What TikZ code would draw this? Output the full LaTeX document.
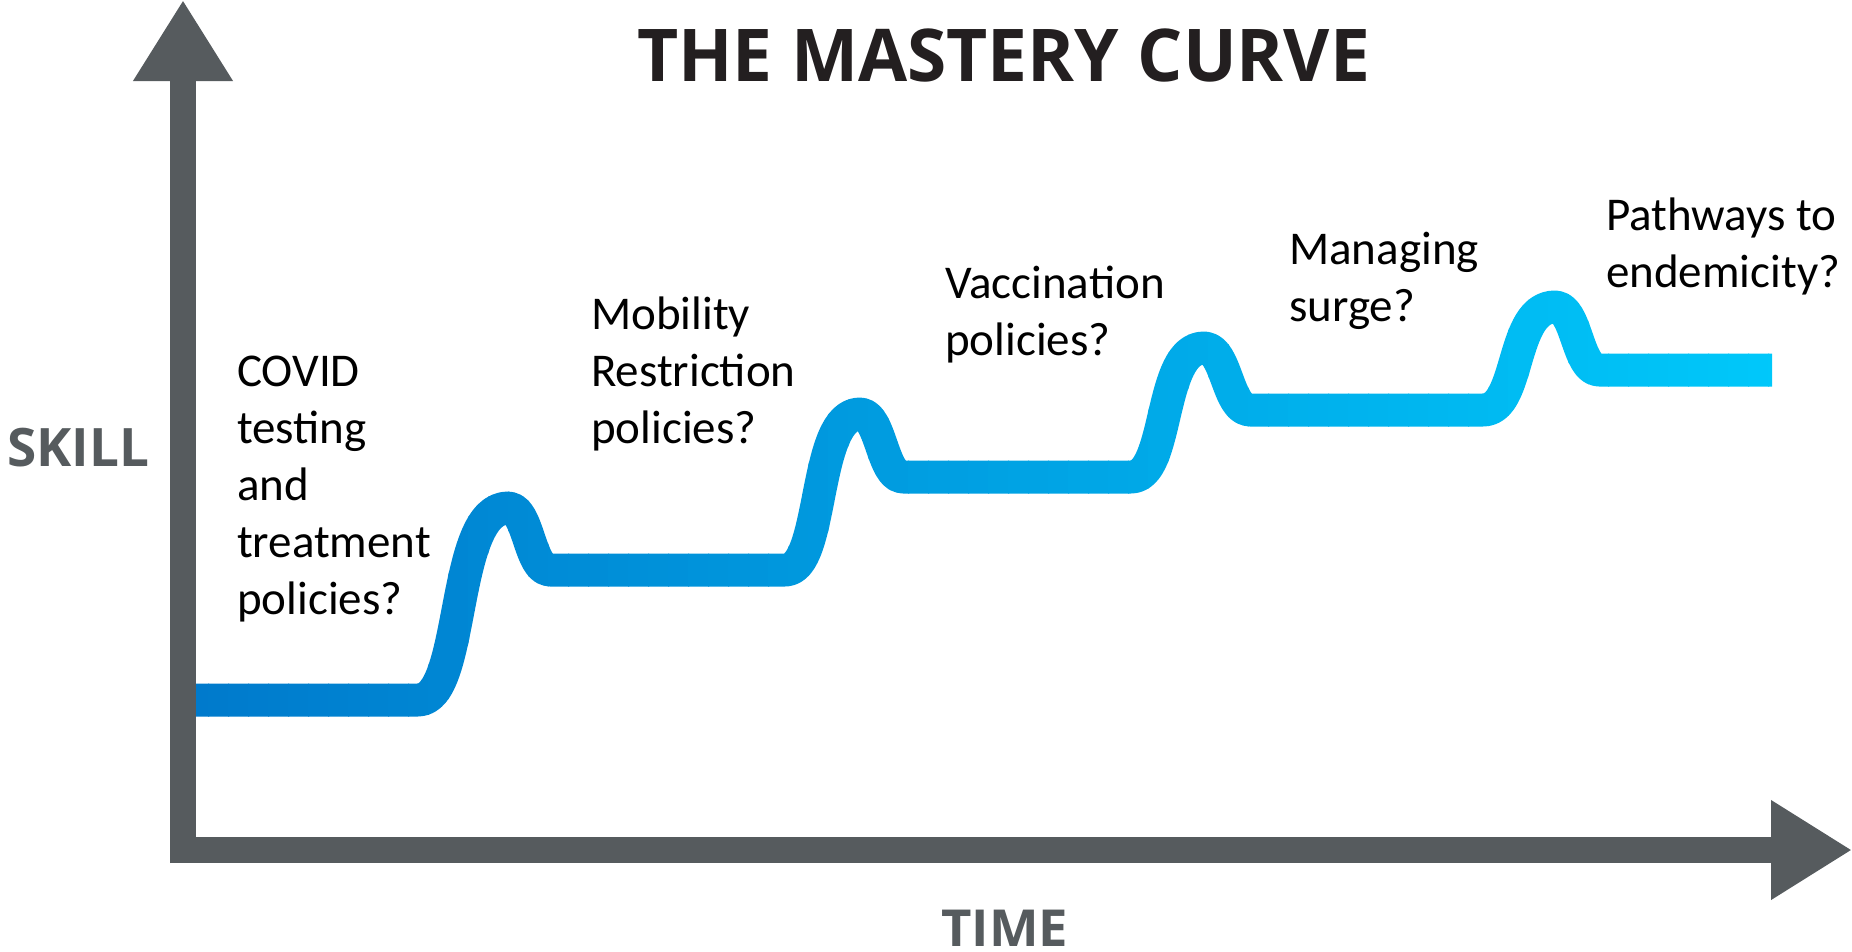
\documentclass[tikz,border=0pt]{standalone}
\usepackage{fontspec}
\usepackage{graphicx}
\usetikzlibrary{arrows.meta}
\newfontfamily\calfont{Carlito}
\newfontfamily\headfont{Open Sans}
\definecolor{axisgray}{HTML}{565B5E}
\definecolor{titleink}{HTML}{231F20}
\definecolor{curveA}{RGB}{0,122,204}
\definecolor{curveB}{RGB}{0,200,250}
\newcommand\masterypath{(170,700) -- (418,700)
  .. controls (466,700) and (450,508) .. (508,508)
  .. controls (529,508) and (529,570) .. (550,570) -- (785,570)
  .. controls (825,570) and (812,414) .. (860,414)
  .. controls (881,414) and (882,477) .. (903,477) -- (1131,477)
  .. controls (1170,477) and (1158,348) .. (1204,348)
  .. controls (1227,348) and (1227,410) .. (1250,410) -- (1483,410)
  .. controls (1521,410) and (1510,307) .. (1555,307)
  .. controls (1577,307) and (1577,370) .. (1599,370) -- (1772,370)}
\tikzset{
  axisline/.style={draw=axisgray, line width=26pt, -{Triangle[length=81pt,width=94pt]}},
  curveline/.style={line width=33pt, line join=round},
  lbl/.style={anchor=base west, inner sep=0pt, text=black, font=\calfont\fontsize{47}{57}\selectfont},
  axlabel/.style={anchor=base west, inner sep=0pt, text=axisgray, font=\headfont\bfseries\fontsize{53}{60}\selectfont},
  titlestyle/.style={anchor=base west, inner sep=0pt, text=titleink, font=\headfont\bfseries\fontsize{72.8}{80}\selectfont},
}
\begin{document}
\begin{tikzpicture}[x=1pt,y=-1pt]
  \useasboundingbox (0,0) rectangle (1852,951);
  % gradient curve
  \foreach \i in {0,...,79}{
    \pgfmathtruncatemacro{\p}{round(\i*100/79)}
    \begin{scope}
      \clip (188+\i*20,0) rectangle (209+\i*20,951);
      \draw[curveline, draw=curveB!\p!curveA] \masterypath;
    \end{scope}
  }
  % axes
  \coordinate (ybot) at (183,863);
  \coordinate (ytop) at (183,0);
  \coordinate (xleft) at (170,850);
  \coordinate (xright) at (1852,850);
  \draw[axisline] (ybot) -- (ytop);
  \draw[axisline] (xleft) -- (xright);
  % texts
  \node[titlestyle] (title) at (637,81) {\resizebox{733pt}{\height}{THE MASTERY CURVE}};
  \node[axlabel] (skill) at (7,466) {\resizebox{142pt}{\height}{SKILL}};
  \node[axlabel, font=\headfont\bfseries\fontsize{51}{60}\selectfont] (time) at (941,946) {\resizebox{127pt}{\height}{TIME}};
  \node[lbl] (l1) at (237,386) {\vtop{\hbox{COVID}\hbox{testing}\hbox{and}\hbox{treatment}\hbox{policies?}}};
  \node[lbl] (l2) at (591,329) {\vtop{\hbox{Mobility}\hbox{Restriction}\hbox{policies?}}};
  \node[lbl] (l3) at (945,298) {\vtop{\hbox{Vaccination}\hbox{policies?}}};
  \node[lbl] (l4) at (1289,264) {\vtop{\hbox{Managing}\hbox{surge?}}};
  \node[lbl] (l5) at (1606,230) {\vtop{\hbox{Pathways to}\hbox{endemicity?}}};
\end{tikzpicture}
\end{document}
